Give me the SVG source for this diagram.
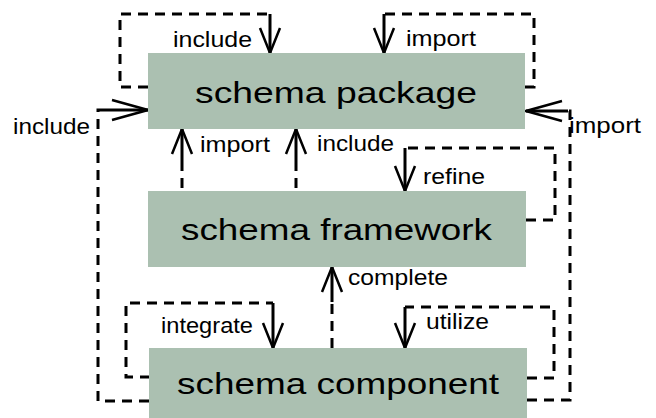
<svg xmlns="http://www.w3.org/2000/svg" width="656" height="418" viewBox="0 0 656 418">
<style>
.box{fill:#abc0b1;stroke:none}
.big{font-family:"Liberation Sans",Arial,sans-serif;font-size:30px;fill:#000}
.lbl{font-family:"Liberation Sans",Arial,sans-serif;font-size:22px;fill:#000}
.dash{fill:none;stroke:#000;stroke-width:3;stroke-dasharray:10 7}
.solid{fill:none;stroke:#000;stroke-width:3}
.solidv{fill:none;stroke:#000;stroke-width:3;marker-end:url(#av)}
.solidh{fill:none;stroke:#000;stroke-width:3;marker-end:url(#ah)}
</style>
<defs>
<marker id="av" markerUnits="userSpaceOnUse" markerWidth="30" markerHeight="24" viewBox="-2 -2 30 24" refX="25" refY="10" orient="auto">
<path d="M0,0 L25,10 L0,20" fill="none" stroke="#000" stroke-width="2.5"/>
</marker>
<marker id="ah" markerUnits="userSpaceOnUse" markerWidth="42" markerHeight="24" viewBox="-2 -2 42 24" refX="36" refY="10" orient="auto">
<path d="M0,0 L36,10 L0,20" fill="none" stroke="#000" stroke-width="2.5"/>
</marker>
</defs>
<g id="connectors">
<g id="c-include-top">
<path class="dash" d="M148,87 H120 V14 H270"/>
<path class="solidv" d="M270,14 V53"/>
<text class="lbl" x="173" y="47" textLength="79" lengthAdjust="spacingAndGlyphs">include</text>
</g>
<g id="c-import-top">
<path class="dash" d="M525,87 H534 V14 H384"/>
<path class="solidv" d="M384,14 V53"/>
<text class="lbl" x="406" y="46" textLength="70" lengthAdjust="spacingAndGlyphs">import</text>
</g>
<g id="c-include-left">
<path class="dash" d="M149,401 H98 V110 H105"/>
<path class="solidh" d="M105,110 H148"/>
<text class="lbl" x="13" y="134" textLength="77" lengthAdjust="spacingAndGlyphs">include</text>
</g>
<g id="c-import-right">
<path class="dash" d="M527,400 H570 V111 H568"/>
<path class="solidh" d="M568,111 H526"/>
<text class="lbl" x="569" y="133" textLength="72" lengthAdjust="spacingAndGlyphs">import</text>
</g>
<g id="c-import-mid">
<path class="dash" d="M182,188 V163"/>
<path class="solidv" d="M182,163 V129"/>
<text class="lbl" x="200" y="152" textLength="70" lengthAdjust="spacingAndGlyphs">import</text>
</g>
<g id="c-include-mid">
<path class="dash" d="M296,188 V163"/>
<path class="solidv" d="M296,163 V129"/>
<text class="lbl" x="317" y="151" textLength="77" lengthAdjust="spacingAndGlyphs">include</text>
</g>
<g id="c-refine">
<path class="dash" d="M526,220 H555 V148 H405"/>
<path class="solidv" d="M405,148 V191"/>
<text class="lbl" x="423" y="184" textLength="62" lengthAdjust="spacingAndGlyphs">refine</text>
</g>
<g id="c-complete">
<path class="dash" d="M332,348 V302"/>
<path class="solidv" d="M332,302 V267"/>
<text class="lbl" x="348" y="285" textLength="100" lengthAdjust="spacingAndGlyphs">complete</text>
</g>
<g id="c-integrate">
<path class="dash" d="M150,377 H126 V303 H273"/>
<path class="solidv" d="M273,303 V348"/>
<text class="lbl" x="161" y="333" textLength="92" lengthAdjust="spacingAndGlyphs">integrate</text>
</g>
<g id="c-utilize">
<path class="dash" d="M527,378 H554 V307 H405"/>
<path class="solidv" d="M405,307 V348"/>
<text class="lbl" x="426" y="329" textLength="63" lengthAdjust="spacingAndGlyphs">utilize</text>
</g>
</g>
<g id="schema-package">
<rect class="box" x="148" y="53" width="377" height="76"/>
<text class="big" x="195" y="103" textLength="282" lengthAdjust="spacingAndGlyphs">schema package</text>
</g>
<g id="schema-framework">
<rect class="box" x="148" y="191" width="378" height="76"/>
<text class="big" x="181" y="240" textLength="311" lengthAdjust="spacingAndGlyphs">schema framework</text>
</g>
<g id="schema-component">
<rect class="box" x="149" y="348" width="378" height="76"/>
<text class="big" x="177" y="394" textLength="322" lengthAdjust="spacingAndGlyphs">schema component</text>
</g>
</svg>
